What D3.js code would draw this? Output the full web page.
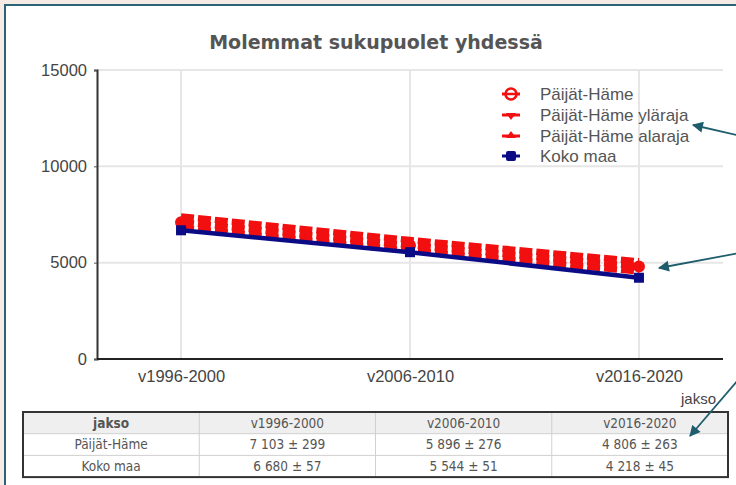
<!DOCTYPE html>
<html>
<head>
<meta charset="utf-8">
<script src="https://cdn.jsdelivr.net/npm/d3@7"></script>
<style>
  html, body { margin: 0; padding: 0; background: #f6ebe4; }
  svg { display: block; }
</style>
</head>
<body>
<svg id="chart" width="736" height="485"></svg>
<script>
// Periods on the x axis
const periods = ["v1996-2000", "v2006-2010", "v2016-2020"];
// Päijät-Häme rate and its ± margin
const phValues = [7103, 5896, 4806];
const phMargin = [299, 276, 263];
// Whole country rate and its ± margin
const kokoValues = [6680, 5544, 4218];
const kokoMargin = [57, 51, 45];
// Axis ticks
const yTicks = [0, 5000, 10000, 15000];
// Legend entries
const legendLabels = ["Päijät-Häme", "Päijät-Häme yläraja", "Päijät-Häme alaraja", "Koko maa"];

const phUpper = phValues.map((v, i) => v + phMargin[i]);
const phLower = phValues.map((v, i) => v - phMargin[i]);

const svg = d3.select("#chart");
const red = "#f20f0f", navy = "#0b0b86", teal = "#1f5d6d";

// white panel with framed border
svg.append("rect").attr("x", 5).attr("y", 5).attr("width", 740).attr("height", 490)
  .attr("fill", "#ffffff").attr("stroke", "#2b6476").attr("stroke-width", 2);

const x = d3.scalePoint().domain(periods).range([97, 723]).padding(0.367);
const y = d3.scaleLinear().domain([0, 15000]).range([359, 70]);

// title
svg.append("text").attr("x", 376).attr("y", 49).attr("text-anchor", "middle")
  .attr("font-family", "DejaVu Sans, sans-serif").attr("font-weight", "bold")
  .attr("font-size", 19).attr("fill", "#555").text("Molemmat sukupuolet yhdessä");

// grid
const grid = svg.append("g");
grid.selectAll("line.h").data(yTicks.filter(d => d > 0)).join("line")
  .attr("x1", 97).attr("x2", 723).attr("y1", d => y(d)).attr("y2", d => y(d))
  .attr("stroke", "#e6e6e6").attr("stroke-width", 2);
grid.selectAll("line.v").data(periods).join("line")
  .attr("x1", d => x(d)).attr("x2", d => x(d)).attr("y1", 70).attr("y2", 359)
  .attr("stroke", "#e6e6e6").attr("stroke-width", 2);

// axes
const yAxis = svg.append("g").attr("transform", "translate(97,0)")
  .call(d3.axisLeft(y).tickValues(yTicks).tickSize(3).tickPadding(7).tickFormat(d3.format("d")));
yAxis.select(".domain").attr("stroke", "#333").attr("stroke-width", 2);
yAxis.selectAll(".tick line").attr("stroke", "#555");
yAxis.selectAll("text").attr("font-family", "Liberation Sans, Arial, sans-serif")
  .attr("font-size", 16.5).attr("fill", "#444");

const xAxis = svg.append("g").attr("transform", "translate(0,359)")
  .call(d3.axisBottom(x).tickSize(0).tickPadding(11));
xAxis.select(".domain").attr("d", "M97,0H723").attr("stroke", "#222").attr("stroke-width", 2);
xAxis.selectAll("text").attr("font-family", "Liberation Sans, Arial, sans-serif")
  .attr("font-size", 16.5).attr("fill", "#444");

svg.append("text").attr("x", 716).attr("y", 404).attr("text-anchor", "end")
  .attr("font-family", "Liberation Sans, Arial, sans-serif").attr("font-size", 15)
  .attr("fill", "#444").text("jakso");

// series lines
const line = d3.line().x((d, i) => x(periods[i])).y(d => y(d));
const plot = svg.append("g");
[phUpper, phValues, phLower].forEach(vals => {
  plot.append("path").datum(vals).attr("d", line).attr("fill", "none")
    .attr("stroke", red).attr("stroke-width", 6.5).attr("stroke-dasharray", "13,4");
});
plot.selectAll("circle.ph").data(phValues).join("circle")
  .attr("cx", (d, i) => x(periods[i])).attr("cy", d => y(d)).attr("r", 6)
  .attr("fill", red);

plot.append("path").datum(kokoValues).attr("d", line).attr("fill", "none")
  .attr("stroke", navy).attr("stroke-width", 4.5);
plot.selectAll("rect.koko").data(kokoValues).join("rect")
  .attr("x", (d, i) => x(periods[i]) - 5).attr("y", d => y(d) - 5)
  .attr("width", 10).attr("height", 10).attr("fill", navy);

// legend
const lg = svg.append("g");
const rowsY = [94, 115, 136, 156];
const lx = 511;
legendLabels.forEach((lab, i) => {
  const cy = rowsY[i];
  const col = i === 3 ? navy : red;
  lg.append("line").attr("x1", lx - 9).attr("x2", lx + 9).attr("y1", cy).attr("y2", cy)
    .attr("stroke", col).attr("stroke-width", 3);
  if (i === 0) {
    lg.append("circle").attr("cx", lx).attr("cy", cy).attr("r", 5.5)
      .attr("fill", "#fff").attr("stroke", col).attr("stroke-width", 2.5);
    lg.append("line").attr("x1", lx - 6).attr("x2", lx + 6).attr("y1", cy).attr("y2", cy)
      .attr("stroke", col).attr("stroke-width", 2.5);
  } else if (i === 1) {
    lg.append("path").attr("d", `M${lx - 5},${cy - 2}L${lx + 5},${cy - 2}L${lx},${cy + 5}Z`).attr("fill", col);
  } else if (i === 2) {
    lg.append("path").attr("d", `M${lx - 5},${cy + 2}L${lx + 5},${cy + 2}L${lx},${cy - 5}Z`).attr("fill", col);
  } else {
    lg.append("rect").attr("x", lx - 5).attr("y", cy - 5).attr("width", 10).attr("height", 10)
      .attr("rx", 2).attr("fill", col);
  }
  lg.append("text").attr("x", 540).attr("y", cy).attr("dy", "0.36em")
    .attr("font-family", "Liberation Sans, Arial, sans-serif").attr("font-size", 17)
    .attr("fill", "#555").text(lab);
});

// data table below the chart
const fmt = v => d3.format(",")(v).replace(/,/g, " ");
const tableRows = [
  ["jakso", ...periods],
  ["Päijät-Häme", ...phValues.map((v, i) => `${fmt(v)} ± ${phMargin[i]}`)],
  ["Koko maa", ...kokoValues.map((v, i) => `${fmt(v)} ± ${kokoMargin[i]}`)]
];
const tx0 = 23, tx1 = 728, ty0 = 412, rowH = 21.7;
const colW = (tx1 - tx0) / 4;
const tbl = svg.append("g");
tbl.append("rect").attr("x", tx0).attr("y", ty0).attr("width", tx1 - tx0).attr("height", rowH)
  .attr("fill", "#efefef");
for (let r = 1; r < 3; r++) {
  tbl.append("line").attr("x1", tx0).attr("x2", tx1).attr("y1", ty0 + r * rowH).attr("y2", ty0 + r * rowH)
    .attr("stroke", "#d0d0d0").attr("stroke-width", 1);
}
for (let c = 1; c < 4; c++) {
  tbl.append("line").attr("x1", tx0 + c * colW).attr("x2", tx0 + c * colW).attr("y1", ty0).attr("y2", ty0 + 3 * rowH)
    .attr("stroke", "#d0d0d0").attr("stroke-width", 1);
}
tbl.append("rect").attr("x", tx0).attr("y", ty0).attr("width", tx1 - tx0).attr("height", 3 * rowH)
  .attr("fill", "none").attr("stroke", "#333").attr("stroke-width", 2);
tableRows.forEach((row, r) => {
  row.forEach((cell, c) => {
    tbl.append("text").attr("x", tx0 + colW * (c + 0.5)).attr("y", ty0 + rowH * (r + 0.5))
      .attr("dy", "0.35em").attr("text-anchor", "middle")
      .attr("font-family", "DejaVu Sans Condensed, DejaVu Sans, sans-serif")
      .attr("font-stretch", "condensed")
      .attr("font-size", 13.5).attr("font-weight", r === 0 && c === 0 ? "bold" : "normal")
      .attr("fill", "#555").text(cell);
  });
});

// callout arrows from the right margin
const defs = svg.append("defs");
defs.append("marker").attr("id", "ah").attr("viewBox", "0 0 10 10").attr("refX", 9).attr("refY", 5)
  .attr("markerWidth", 13).attr("markerHeight", 11).attr("markerUnits", "userSpaceOnUse")
  .attr("orient", "auto").append("path").attr("d", "M0,0L10,5L0,10Z").attr("fill", teal);
const arrows = [[[745, 137], [693, 125]], [[745, 252], [659, 268]], [[745, 372], [690, 436]]];
arrows.forEach(([a, b]) => {
  svg.append("line").attr("x1", a[0]).attr("y1", a[1]).attr("x2", b[0]).attr("y2", b[1])
    .attr("stroke", teal).attr("stroke-width", 1.8).attr("marker-end", "url(#ah)");
});
</script>
</body>
</html>
